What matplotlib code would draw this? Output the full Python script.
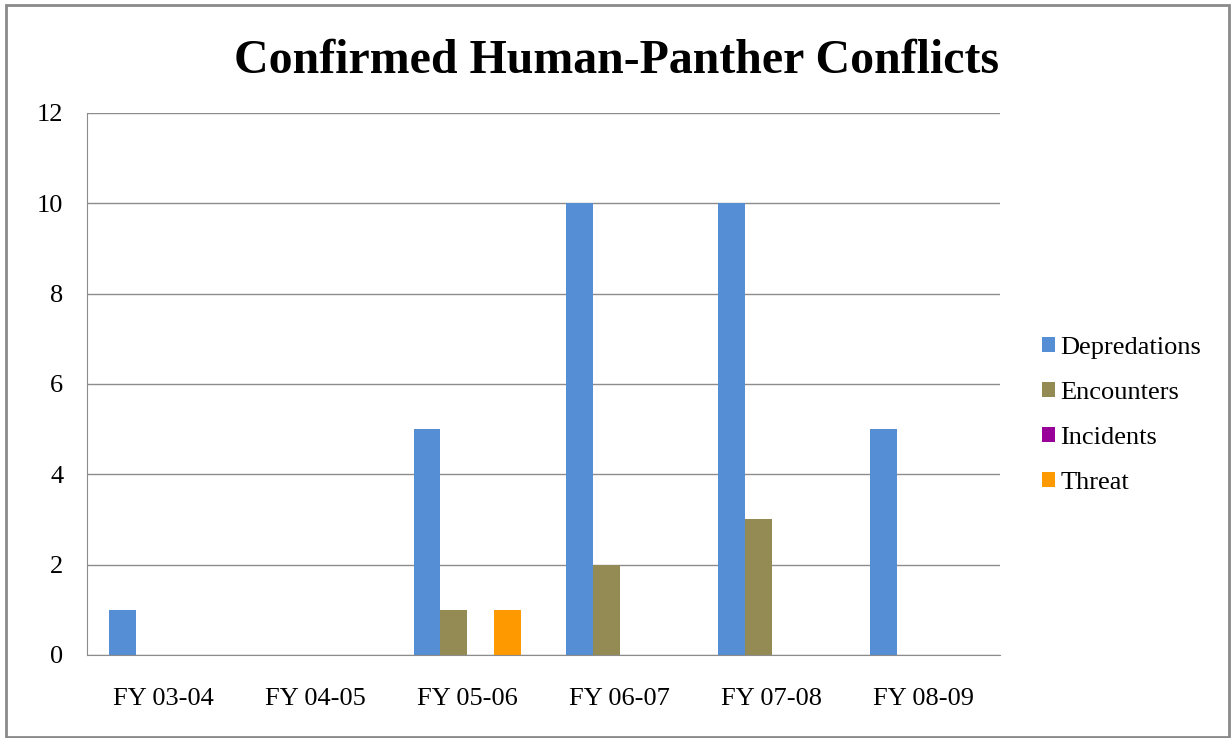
import matplotlib
matplotlib.use("Agg")
import matplotlib.pyplot as plt
import numpy as np
from matplotlib.patches import Rectangle

plt.rcParams['font.family'] = ['Liberation Serif', 'DejaVu Serif']

# data
years = ["FY 03-04", "FY 04-05", "FY 05-06", "FY 06-07", "FY 07-08", "FY 08-09"]
depredations = [1, 0, 5, 10, 10, 5]
encounters = [0, 0, 1, 2, 3, 0]
incidents = [0, 0, 0, 0, 0, 0]
threat = [0, 0, 1, 0, 0, 0]

series = [
    ("Depredations", depredations, "#558ed5"),
    ("Encounters", encounters, "#948a54"),
    ("Incidents", incidents, "#990099"),
    ("Threat", threat, "#ff9900"),
]

fig = plt.figure(figsize=(12.31, 7.38), dpi=100)
ax = fig.add_axes([0.0707, 0.1125, 0.7416, 0.7344])

x = np.arange(len(years))
w = 0.177
for i, (name, vals, col) in enumerate(series):
    ax.bar(x + (i - 1.5) * w, vals, w, color=col, label=name, zorder=3)

ax.set_xlim(-0.5, len(years) - 0.5)
ax.set_ylim(0, 12)
ax.set_yticks(range(0, 13, 2))
ax.set_xticks(x)
ax.set_xticklabels(years, fontsize=19)
ax.tick_params(axis='y', labelsize=19, length=0, pad=17)
ax.tick_params(axis='x', length=0, pad=24)
ax.grid(axis='y', color='#8c8c8c', linewidth=1, zorder=0)
for s in ['top', 'right']:
    ax.spines[s].set_visible(False)
ax.spines['left'].set_color('#8c8c8c')
ax.spines['bottom'].set_color('#8c8c8c')
ax.spines['bottom'].set_zorder(4)

fig.text(0.501, 0.918, "Confirmed Human-Panther Conflicts", fontsize=34.5,
         fontweight='bold', ha='center', va='center')

fig.legend(loc='center left', bbox_to_anchor=(0.827, 0.437), frameon=False,
           fontsize=19, handlelength=0.5, handleheight=0.5, handletextpad=0.2,
           labelspacing=0.87)

# outer chart border
fig.patches.append(Rectangle((0.005, 0.002), 0.993, 0.991, transform=fig.transFigure,
                             fill=False, edgecolor='#8a8a8a', linewidth=2))

fig.savefig("out.png", dpi=100)
